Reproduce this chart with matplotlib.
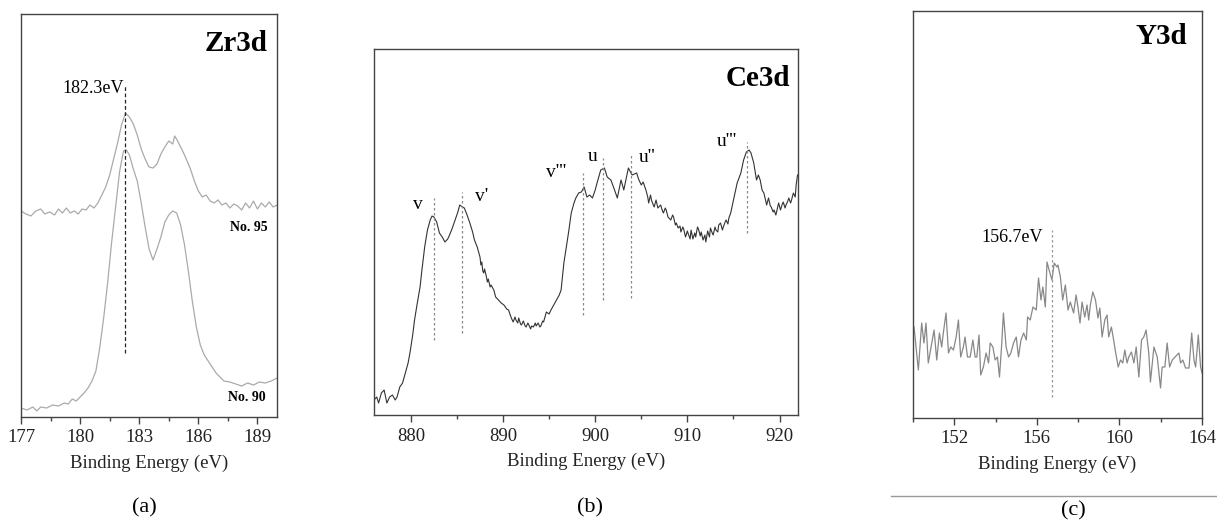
import numpy as np
import matplotlib
matplotlib.use('Agg')
import matplotlib.pyplot as plt
from matplotlib.ticker import MultipleLocator
from matplotlib.lines import Line2D

plt.rcParams['font.family'] = ['Liberation Serif', 'DejaVu Serif']

# Zr3d, two samples (binding energy in eV, intensity in arbitrary units)
zr_e95 = [177.0, 177.25, 177.5, 177.75, 178.0, 178.2, 178.45, 178.7, 178.9, 179.1,
          179.3, 179.5, 179.7, 179.9, 180.1, 180.3, 180.5, 180.7, 180.9, 181.1,
          181.3, 181.5, 181.7, 181.9, 182.1, 182.3, 182.5, 182.7, 182.9, 183.1,
          183.3, 183.5, 183.7, 183.9, 184.1, 184.3, 184.5, 184.7, 184.8, 184.95,
          185.1, 185.3, 185.45, 185.6, 185.8, 186.0, 186.2, 186.4, 186.6, 186.8,
          187.0, 187.2, 187.4, 187.6, 187.8, 188.0, 188.2, 188.4, 188.6, 188.8,
          189.0, 189.2, 189.4, 189.6, 189.8, 190.0]
zr_i95 = [206, 203, 201, 206, 208, 203, 205, 202, 208, 204,
          209, 204, 206, 203, 208, 207, 212, 209, 214, 222,
          230, 242, 258, 274, 292, 304, 300, 293, 282, 268,
          258, 250, 249, 253, 263, 270, 276, 273, 281, 276,
          270, 262, 255, 248, 236, 226, 220, 222, 216, 214,
          217, 212, 214, 209, 213, 211, 207, 214, 209, 216,
          208, 214, 210, 215, 210, 212]
zr_e90 = [177.0, 177.3, 177.6, 177.8, 178.0, 178.3, 178.6, 178.9, 179.2, 179.4,
          179.6, 179.8, 180.0, 180.2, 180.4, 180.6, 180.8, 181.0, 181.2, 181.4,
          181.6, 181.8, 182.0, 182.2, 182.35, 182.5, 182.7, 182.9, 183.1, 183.3,
          183.5, 183.7, 183.9, 184.1, 184.3, 184.5, 184.7, 184.9, 185.1, 185.3,
          185.5, 185.7, 185.9, 186.1, 186.3, 186.5, 186.7, 186.9, 187.1, 187.3,
          187.6, 187.9, 188.2, 188.5, 188.8, 189.1, 189.4, 189.7, 190.0]
zr_i90 = [9, 7, 10, 6, 10, 9, 12, 11, 14, 13,
          18, 16, 20, 24, 29, 36, 46, 70, 100, 135,
          175, 210, 245, 266, 267, 262, 248, 236, 214, 190,
          168, 157, 168, 180, 195, 202, 206, 204, 192, 172,
          145, 115, 90, 72, 62, 56, 50, 44, 40, 36,
          35, 33, 31, 34, 32, 35, 34, 36, 39]

# Ce3d
ce_e = [876.0, 876.3, 876.5, 876.8, 877.1, 877.4, 877.7, 878.0, 878.3, 878.5,
        878.8, 879.1, 879.4, 879.7, 879.9, 880.2, 880.4, 880.7, 881.0, 881.2,
        881.5, 881.8, 882.1, 882.3, 882.5, 882.8, 883.1, 883.4, 883.7, 884.0,
        884.2, 884.5, 884.8, 885.1, 885.3, 885.6, 885.8, 886.1, 886.4, 886.7,
        886.9, 887.2, 887.5, 887.6, 887.7, 887.8, 887.9, 888.0, 888.2, 888.3,
        888.4, 888.6, 888.7, 889.0, 889.2, 889.5, 889.8, 890.1, 890.4, 890.6,
        890.9, 891.1, 891.3, 891.4, 891.6, 891.7, 891.9, 892.0, 892.2, 892.4,
        892.5, 892.7, 892.8, 893.0, 893.1, 893.3, 893.5, 893.6, 893.8, 894.0,
        894.1, 894.3, 894.4, 894.7, 895.0, 895.2, 895.5, 895.8, 896.1, 896.3,
        896.6, 896.9, 897.1, 897.4, 897.7, 897.9, 898.2, 898.5, 898.8, 899.1,
        899.4, 899.7, 900.0, 900.2, 900.6, 901.0, 901.3, 901.7, 902.1, 902.4,
        902.8, 903.1, 903.6, 904.0, 904.5, 904.7, 905.0, 905.2, 905.5, 905.7,
        905.8, 906.0, 906.1, 906.3, 906.4, 906.6, 906.8, 907.1, 907.3, 907.4,
        907.6, 907.7, 907.9, 908.0, 908.2, 908.4, 908.5, 908.7, 908.8, 909.0,
        909.2, 909.3, 909.5, 909.6, 909.8, 910.0, 910.1, 910.3, 910.4, 910.6,
        910.8, 910.9, 911.1, 911.2, 911.4, 911.5, 911.7, 911.9, 912.0, 912.2,
        912.4, 912.5, 912.7, 912.8, 913.0, 913.1, 913.3, 913.4, 913.6, 913.8,
        913.9, 914.1, 914.2, 914.4, 914.5, 914.7, 915.0, 915.4, 915.8, 916.1,
        916.4, 916.7, 916.9, 917.2, 917.5, 917.7, 917.9, 918.1, 918.3, 918.5,
        918.6, 918.8, 919.0, 919.1, 919.3, 919.4, 919.6, 919.8, 919.9, 920.1,
        920.3, 920.4, 920.6, 920.7, 920.9, 921.0, 921.2, 921.3, 921.5, 921.7,
        921.8, 921.95]
ce_i = [15, 18, 12, 22, 25, 12, 18, 20, 15, 18,
        28, 32, 42, 52, 62, 80, 95, 112, 128, 145,
        168, 185, 195, 199, 198, 193, 182, 178, 173, 176,
        180, 187, 195, 203, 210, 208, 207, 200, 192, 183,
        175, 168, 158, 150, 153, 144, 142, 146, 138, 133,
        136, 128, 130, 125, 118, 115, 112, 110, 106, 105,
        97, 93, 98, 95, 92, 97, 91, 90, 94, 89,
        88, 92, 90, 86, 89, 88, 92, 89, 92, 88,
        89, 94, 93, 103, 101, 105, 110, 115, 120, 125,
        152, 170, 182, 202, 212, 217, 222, 223, 228, 218,
        220, 217, 225, 232, 245, 247, 238, 235, 225, 217,
        235, 225, 247, 240, 242, 236, 230, 233, 225, 218,
        212, 220, 215, 210, 208, 215, 207, 210, 204, 202,
        207, 205, 198, 197, 195, 200, 198, 190, 192, 187,
        189, 183, 188, 186, 178, 184, 181, 176, 185, 176,
        182, 178, 188, 186, 179, 183, 175, 180, 173, 184,
        178, 187, 182, 180, 188, 185, 183, 190, 192, 185,
        188, 193, 195, 191, 197, 202, 215, 232, 242, 255,
        263, 265, 262, 252, 235, 240, 235, 225, 222, 214,
        210, 217, 209, 208, 203, 205, 200, 208, 212, 205,
        211, 213, 207, 210, 214, 217, 212, 215, 222, 218,
        230, 240]
ce_peaks = [882.5, 885.6, 898.7, 900.8, 903.9, 916.5]
ce_peak_top = [217, 223, 242, 257, 260, 273]
ce_peak_bot = [75, 82, 100, 115, 117, 182]
ce_labels = ["v", "v'", "v'''", "u", "u''", "u'''"]
ce_label_e = [880.75, 887.7, 895.8, 899.7, 905.6, 914.3]
ce_label_i = [210, 218, 242, 258, 257, 273]

# Y3d
y_e = [150.05, 150.26, 150.42, 150.53, 150.63, 150.74, 150.91, 151.02, 151.15, 151.28,
       151.39, 151.47, 151.6, 151.72, 151.83, 151.96, 152.09, 152.2, 152.31, 152.44,
       152.52, 152.64, 152.77, 152.9, 153.01, 153.09, 153.2, 153.28, 153.41, 153.54,
       153.66, 153.74, 153.87, 153.98, 154.09, 154.19, 154.3, 154.38, 154.51, 154.63,
       154.74, 154.87, 155.0, 155.11, 155.23, 155.36, 155.49, 155.55, 155.68, 155.81,
       155.97, 156.08, 156.2, 156.29, 156.41, 156.49, 156.62, 156.73, 156.84, 156.97,
       157.02, 157.14, 157.25, 157.38, 157.51, 157.62, 157.78, 157.9, 157.99, 158.09,
       158.19, 158.32, 158.43, 158.51, 158.59, 158.71, 158.84, 158.96, 159.05, 159.16,
       159.29, 159.4, 159.48, 159.61, 159.72, 159.81, 159.94, 160.05, 160.16, 160.26,
       160.37, 160.45, 160.58, 160.7, 160.81, 160.94, 161.07, 161.18, 161.29, 161.42,
       161.5, 161.67, 161.83, 161.99, 162.07, 162.2, 162.31, 162.43, 162.56, 162.69,
       162.88, 162.96, 163.07, 163.2, 163.37, 163.5, 163.61, 163.69, 163.82, 163.93,
       164.0]
y_i = [91, 48, 95, 75, 95, 55, 75, 88, 58, 85,
       71, 85, 105, 65, 71, 68, 81, 98, 61, 71,
       81, 61, 61, 78, 61, 61, 83, 43, 51, 65,
       55, 75, 71, 58, 61, 41, 75, 105, 71, 61,
       65, 75, 81, 61, 78, 85, 78, 101, 98, 111,
       108, 140, 118, 131, 111, 156, 146, 138, 155, 151,
       153, 141, 118, 133, 108, 116, 105, 123, 111, 95,
       116, 101, 113, 98, 113, 126, 118, 100, 110, 81,
       98, 103, 81, 91, 78, 66, 51, 58, 55, 68,
       55, 61, 66, 55, 71, 41, 78, 81, 88, 65,
       36, 71, 61, 30, 51, 51, 75, 51, 58, 61,
       65, 55, 58, 50, 50, 85, 58, 51, 83, 51,
       45]

fig = plt.figure(figsize=(12.17, 5.24), dpi=100)
ax1 = fig.add_axes([0.0173, 0.2042, 0.2104, 0.7691])
ax2 = fig.add_axes([0.3073, 0.2080, 0.3484, 0.6985])
ax3 = fig.add_axes([0.7502, 0.2023, 0.2375, 0.7767])

for ax in (ax1, ax2, ax3):
    for s in ax.spines.values():
        s.set_color('#444444')
        s.set_linewidth(1.0)
    ax.set_yticks([])
    ax.tick_params(axis='x', direction='out', length=5, width=1, colors='#444444',
                   labelsize=13.5, labelcolor='#222222', pad=4)
    ax.tick_params(axis='x', which='minor', direction='out', length=3, width=1, colors='#444444')
    ax.set_xlabel('Binding Energy (eV)', fontsize=13.5, color='#222222', labelpad=6)

# (a) Zr3d
ax1.plot(zr_e95, zr_i95, color='#aaaaaa', lw=0.9)
ax1.plot(zr_e90, zr_i90, color='#aaaaaa', lw=0.9)
ax1.plot([182.3, 182.3], [64, 332], color='#222222', lw=0.9, ls=(0, (3, 2)))
ax1.text(182.2, 328, '182.3eV', ha='right', va='center', fontsize=13)
ax1.text(189.5, 189, 'No. 95', ha='right', va='center', fontsize=10, fontweight='bold')
ax1.text(189.4, 19, 'No. 90', ha='right', va='center', fontsize=10, fontweight='bold')
ax1.text(189.5, 373, 'Zr3d', ha='right', va='center', fontsize=21, fontweight='bold')
ax1.set_xlim(177, 190)
ax1.set_ylim(0, 403)
ax1.xaxis.set_major_locator(MultipleLocator(3))
ax1.xaxis.set_minor_locator(MultipleLocator(1.5))

# (b) Ce3d
ax2.plot(ce_e, ce_i, color='#333333', lw=0.8)
for e, t, b in zip(ce_peaks, ce_peak_top, ce_peak_bot):
    ax2.plot([e, e], [b, t], color='#888888', lw=0.9, ls=(0, (2, 2)))
for lab, e, i in zip(ce_labels, ce_label_e, ce_label_i):
    ax2.text(e, i, lab, ha='center', va='center', fontsize=14)
ax2.text(921.2, 336, 'Ce3d', ha='right', va='center', fontsize=21, fontweight='bold')
ax2.set_xlim(876, 922)
ax2.set_ylim(0, 366)
ax2.xaxis.set_major_locator(MultipleLocator(10))
ax2.xaxis.set_minor_locator(MultipleLocator(5))

# (c) Y3d
ax3.plot(y_e, y_i, color='#888888', lw=0.9)
ax3.plot([156.75, 156.75], [21, 188], color='#999999', lw=0.9, ls=(0, (2, 2)))
ax3.text(156.3, 180, '156.7eV', ha='right', va='center', fontsize=13)
ax3.text(163.3, 382, 'Y3d', ha='right', va='center', fontsize=21, fontweight='bold')
ax3.set_xlim(150, 164)
ax3.set_ylim(0, 407)
ax3.xaxis.set_major_locator(MultipleLocator(4))
ax3.xaxis.set_minor_locator(MultipleLocator(2))

# captions
fig.text(0.119, 0.031, '(a)', ha='center', va='center', fontsize=16)
fig.text(0.485, 0.031, '(b)', ha='center', va='center', fontsize=16)
fig.text(0.882, 0.025, '(c)', ha='center', va='center', fontsize=16)
fig.add_artist(Line2D([0.732, 1.0], [0.0534, 0.0534], color='#999999', lw=1))

plt.savefig('out.png', dpi=100)
